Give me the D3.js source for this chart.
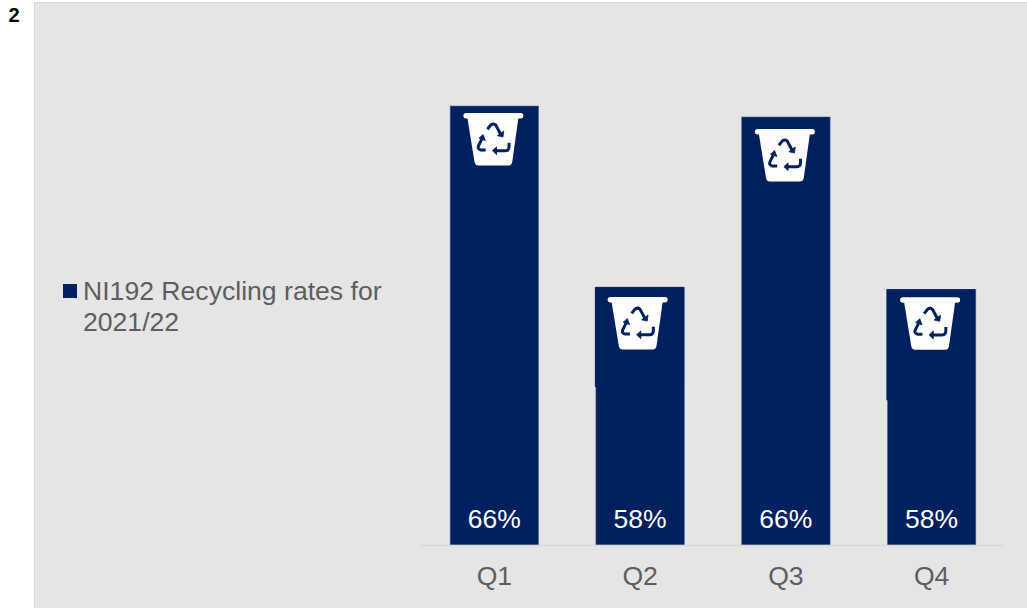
<!DOCTYPE html>
<html lang="en">
<head>
<meta charset="UTF-8">
<title>NI192 Recycling rates</title>
<script src="https://d3js.org/d3.v7.min.js"></script>
<style>
    html, body { margin: 0; padding: 0; background: #fff; overflow: hidden; }
    svg { display: block; font-family: "Liberation Sans", Arial, sans-serif; }
</style>
</head>
<body>
<div id="chart"></div>
<script>
    // values, the labels are these rounded
    const quarters = ["Q1", "Q2", "Q3", "Q4"];
    const rates = [66.4, 58.15, 65.9, 58.05];
    const legendLines = ["NI192 Recycling rates for", "2021/22"];
    const slideNumber = "2";

    const width = 1027, height = 608;
    const navy = "#002060", panel = "#e5e5e5", grey = "#5e5e5e";
    const baseY = 545;

    const svg = d3.select("#chart").append("svg")
        .attr("width", width).attr("height", height);

    svg.append("rect")
        .attr("x", 34.5).attr("y", 2.5)
        .attr("width", width).attr("height", height)
        .attr("fill", panel).attr("stroke", "#d9d9d9");

    svg.append("text")
        .attr("x", 8.5).attr("y", 22)
        .attr("font-size", 20).attr("font-weight", "bold").attr("fill", "#000")
        .text(slideNumber);

    const x = d3.scaleBand().domain(quarters).range([421, 1005])
        .paddingInner(0.393).paddingOuter(0.2);
    const y = d3.scaleLinear().domain([46.4, 66.4]).range([baseY, 106]);

    const bars = svg.append("g").selectAll("g")
        .data(quarters.map((q, i) => ({ q, v: rates[i] })))
        .enter().append("g");

    bars.append("rect")
        .attr("x", d => x(d.q))
        .attr("y", d => y(d.v))
        .attr("width", x.bandwidth())
        .attr("height", d => baseY - y(d.v))
        .attr("fill", navy)
        .attr("stroke", "#5f7299").attr("stroke-width", 0.6);

    // pasted icon tile sits a little off the bar, only shows on Q2 and Q4
    const tileHeight = [0, 100, 0, 111];
    const iconDx = [-1, -2.5, -1, -1.5];
    const iconDy = [7, 10, 12, 8];

    bars.append("rect")
        .attr("x", d => x(d.q) - 1)
        .attr("y", d => y(d.v))
        .attr("width", x.bandwidth())
        .attr("height", (d, i) => tileHeight[i])
        .attr("fill", navy);

    // bin with three recycling arrows, origin is top centre of the lid
    const icon = bars.append("g")
        .attr("transform", (d, i) =>
            "translate(" + (x(d.q) + x.bandwidth() / 2 + iconDx[i]) + "," + (y(d.v) + iconDy[i]) + ")");

    icon.append("path")
        .attr("d", "M-26,5 L-19,48 Q-18.5,52.5 -15,52.5 L15,52.5 Q18.5,52.5 19,48 L25,5 Z")
        .attr("fill", "#fff");
    icon.append("rect")
        .attr("x", -30).attr("y", 0).attr("width", 60).attr("height", 5.5).attr("rx", 2.75)
        .attr("fill", "#fff");
    icon.append("path")
        .attr("d", "M-6,16.3 L-2.6,12 Q0,10 2.3,12 L7.3,21.3 M-7.7,37 L-12.5,37 Q-16,36 -15,33 L-11.7,26.3 M15.7,29.7 L15.7,34 Q15.5,37.7 12,37.7 L2.3,37.7")
        .attr("fill", "none").attr("stroke", navy).attr("stroke-width", 3);
    icon.append("path")
        .attr("d", "M4,22.7 L9.6,24 L10.4,18 Z M-10.3,21.5 L-14.4,25.2 L-8,27.6 Z M-1,37.7 L3.2,33.8 L3.2,41.6 Z")
        .attr("fill", navy).attr("stroke", navy).attr("stroke-width", 0.8);

    bars.append("text")
        .attr("x", d => x(d.q) + x.bandwidth() / 2)
        .attr("y", 528)
        .attr("text-anchor", "middle")
        .attr("font-size", 26.5).attr("fill", "#fff")
        .text(d => d3.format(".0f")(d.v) + "%");

    const axis = svg.append("g")
        .attr("transform", "translate(0," + baseY + ")")
        .call(d3.axisBottom(x).tickSize(0).tickPadding(21.5));
    axis.select(".domain").attr("stroke", "#d9d9d9").attr("stroke-width", 1.5);
    axis.selectAll("text")
        .attr("font-size", 26.6).attr("fill", grey)
        .attr("font-family", "Liberation Sans, Arial, sans-serif");

    // legend
    svg.append("rect")
        .attr("x", 63).attr("y", 284).attr("width", 14).attr("height", 14)
        .attr("fill", navy);
    svg.append("g").selectAll("text")
        .data(legendLines)
        .enter().append("text")
        .attr("x", 83)
        .attr("y", (d, i) => 300 + i * 30.5)
        .attr("font-size", 26.6).attr("fill", grey)
        .text(d => d);
</script>
</body>
</html>
